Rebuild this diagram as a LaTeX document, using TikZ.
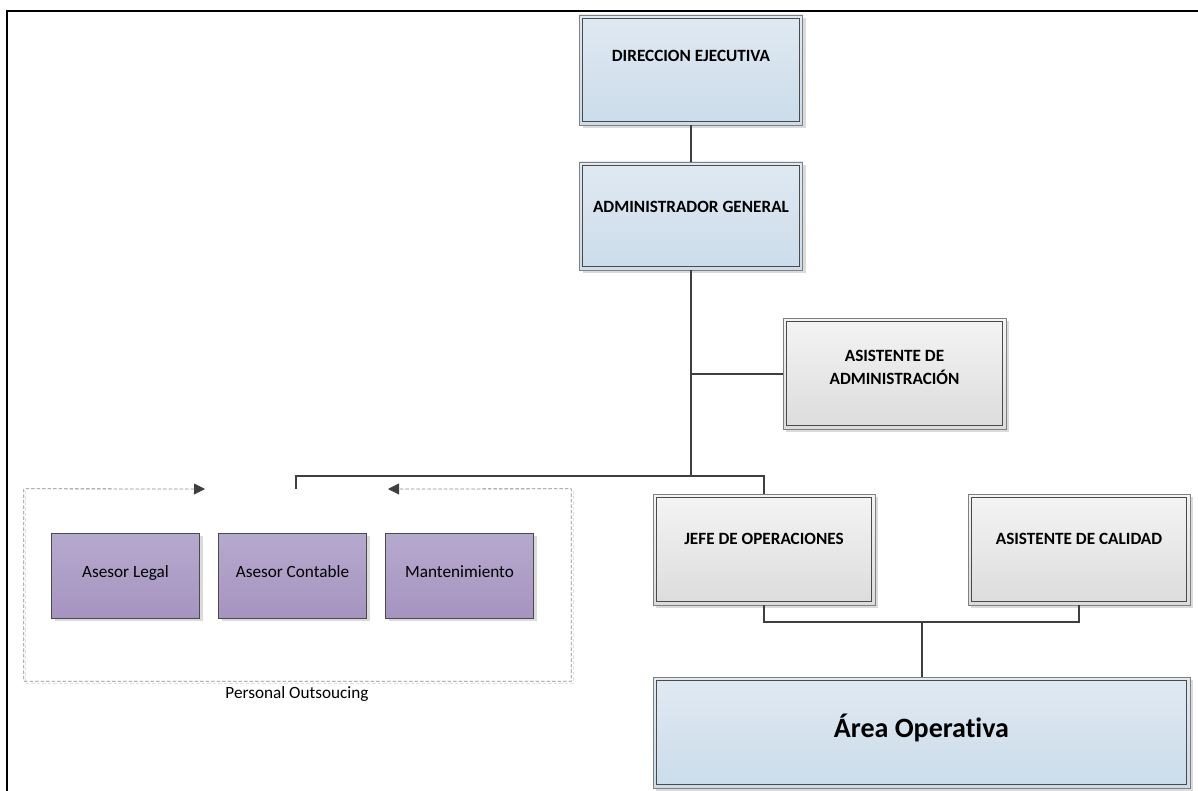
\documentclass[tikz,border=0pt]{standalone}
\usepackage{fontspec}
\setmainfont{Carlito}[Ligatures=NoCommon]
\usetikzlibrary{calc,arrows.meta,shadows}

\definecolor{blueTop}{HTML}{E0E9F2}
\definecolor{blueBot}{HTML}{CBDCEA}
\definecolor{greyTop}{HTML}{F4F4F4}
\definecolor{greyBot}{HTML}{DCDCDC}
\definecolor{lilacTop}{HTML}{B6A9CE}
\definecolor{lilacBot}{HTML}{A594C0}
\definecolor{edgeOuter}{HTML}{808080}
\definecolor{edgeInner}{HTML}{4A4A4A}
\definecolor{linkCol}{HTML}{3F3F3F}
\definecolor{dashCol}{HTML}{8A8A8A}

\tikzset{
  orgbox/.style={rectangle, inner sep=0pt, draw=edgeOuter, line width=0.9pt,
    minimum width=222pt, minimum height=110pt,
    drop shadow={shadow xshift=3pt, shadow yshift=-3pt, fill=black!14, opacity=1}},
  bluebox/.style={orgbox, top color=blueTop, bottom color=blueBot},
  greybox/.style={orgbox, top color=greyTop, bottom color=greyBot},
  lilacbox/.style={rectangle, inner sep=0pt, draw=edgeInner, line width=0.9pt,
    minimum width=148pt, minimum height=85pt, top color=lilacTop, bottom color=lilacBot,
    drop shadow={shadow xshift=3pt, shadow yshift=-3pt, fill=black!14, opacity=1}},
  innerline/.style={draw=edgeInner, line width=1pt},
  title/.style={font=\fontsize{17.2}{23}\selectfont\bfseries, align=center, inner sep=0pt},
  plain/.style={font=\fontsize{17.2}{20}\selectfont, inner sep=0pt},
  link/.style={draw=linkCol, line width=2pt},
  dashline/.style={draw=dashCol, line width=0.8pt, dash pattern=on 3.5pt off 2pt},
  frame/.style={draw=black, line width=2pt},
}

% inner frame of the double-bordered boxes
\newcommand{\innerframe}[1]{%
  \draw[innerline] ($(#1.north west)+(3.5,3.5)$) rectangle ($(#1.south east)+(-3.5,-3.5)$);}

\begin{document}
\begin{tikzpicture}[x=1pt,y=-1pt]
\useasboundingbox (0,0) rectangle (1198,791);

% page frame (top and left only)
\draw[frame] (7,791) -- (7,11) -- (1198,11);

% management boxes
\node[bluebox, minimum width=223pt] (dir)  at (691,70) {};
\node[bluebox, minimum width=223pt, minimum height=108pt] (adm)  at (691,216) {};
\node[greybox, minimum width=223pt, minimum height=111pt] (aadm) at (894.5,373.5) {};
\node[greybox, minimum height=111pt] (jefe) at (764,549.5) {};
\node[greybox, minimum height=111pt] (acal) at (1079,549.5) {};
\node[bluebox, minimum width=537pt, minimum height=111pt] (area) at (921.5,732.5) {};
\foreach \b in {dir,adm,aadm,jefe,acal,area} {\innerframe{\b}}

\node[title, anchor=base] (tdir)  at (691,62)     {DIRECCION EJECUTIVA};
\node[title, anchor=base] (tadm)  at (691,213)    {ADMINISTRADOR GENERAL};
\node[title] (taadm) at (894.5,367) {ASISTENTE DE\\ADMINISTRACIÓN};
\node[title, anchor=base] (tjefe) at (764,544)    {JEFE DE OPERACIONES};
\node[title, anchor=base] (tacal) at (1079,544)   {ASISTENTE DE CALIDAD};
\node[font=\fontsize{28}{32}\selectfont\bfseries, inner sep=0pt, anchor=base] (tarea) at (921.5,737) {Área Operativa};

% outsourced staff
\node[lilacbox] (legal) at (125.5,575.5) {};
\node[lilacbox] (cont)  at (292.5,575.5) {};
\node[lilacbox] (mant)  at (459.5,575.5) {};
\node[plain, anchor=base] (tlegal) at (125.5,577) {Asesor Legal};
\node[plain, anchor=base] (tcont)  at (292.5,577) {Asesor Contable};
\node[plain, anchor=base] (tmant)  at (459.5,577) {Mantenimiento};

% dashed group boundary with its two inward arrows
\node[inner sep=0pt, minimum width=547pt, minimum height=192pt] (grp) at (297.5,585) {};
\coordinate (la) at (205,489);
\coordinate (ra) at (388,489);
\draw[draw=black!12, line width=0.8pt, dash pattern=on 3.5pt off 2pt]
  ($(grp.north west)+(2,2)$) -- ($(grp.south west)+(2,2)$) -- ($(grp.south east)+(2,2)$) -- ($(grp.north east)+(2,2)$);
\draw[dashline, {Triangle[length=11pt,width=11pt,fill=linkCol,color=linkCol]}-{Triangle[length=11pt,width=11pt,fill=linkCol,color=linkCol]}]
  (la) -- (grp.north west) -- (grp.south west) -- (grp.south east) -- (grp.north east) -- (ra);
\node[plain, anchor=base] (tgrp) at (297,698) {Personal Outsoucing};

% reporting lines
\coordinate (hub) at (691,476);
\coordinate (grptop) at (296,489);
\coordinate (join) at (921.5,622);
\draw[link] (dir.south) -- (adm.north);
\draw[link] (adm.south) -- (hub);
\draw[link] (adm.south |- aadm.west) -- (aadm.west);
\draw[link] (hub) -| (jefe.north);
\draw[link] (hub) -| (grptop);
\draw[link] (jefe.south) |- (join) -| (acal.south);
\draw[link] (join) -- (area.north);
\end{tikzpicture}
\end{document}
